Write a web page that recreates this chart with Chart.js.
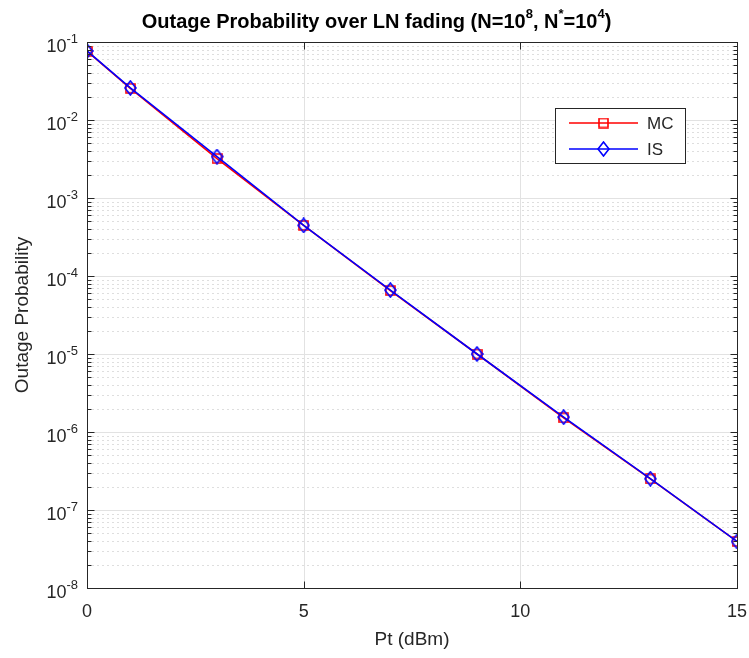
<!DOCTYPE html>
<html>
<head>
<meta charset="utf-8">
<script src="https://cdn.jsdelivr.net/npm/chart.js@4.4.1/dist/chart.umd.min.js"></script>
<style>
  html, body { margin: 0; padding: 0; background: #fff; }
  canvas { display: block; }
</style>
</head>
<body>
<canvas id="chart" width="749" height="658"></canvas>
<script>
// Outage probability vs transmit power, log y axis (MATLAB-like look)
const pt = [0, 1, 3, 5, 7, 9, 11, 13, 15];
const mcValues = [0.0765, 0.0255, 0.0032, 4.45e-4, 6.5e-5, 1.0e-5, 1.52e-6, 2.5e-7, 3.95e-8];
const isValues = [0.0768, 0.0258, 0.0034, 4.45e-4, 6.6e-5, 1.0e-5, 1.55e-6, 2.52e-7, 3.95e-8];
const xTicks = [0, 5, 10, 15];
const yExponents = [-8, -7, -6, -5, -4, -3, -2, -1];

const FONT = '"Liberation Sans", Arial, Helvetica, sans-serif';
const TEXT = '#262626';

function markerCanvas(w, h, color, shape) {
  const c = document.createElement('canvas');
  c.width = w; c.height = h;
  const g = c.getContext('2d');
  g.strokeStyle = color;
  g.lineWidth = 1.6;
  g.beginPath();
  if (shape === 'square') {
    g.rect(1, 1, w - 2, h - 2);
  } else {
    g.moveTo(w / 2, 1); g.lineTo(w - 1, h / 2);
    g.lineTo(w / 2, h - 1); g.lineTo(1, h / 2); g.closePath();
  }
  g.stroke();
  return c;
}
const squareMark = markerCanvas(11, 11, '#ff0000', 'square');
const diamondMark = markerCanvas(13, 16, '#0000ff', 'diamond');

function supText(ctx, parts, x, y, align) {
  // parts: [text, isSup]
  const big = ctx.font, small = ctx._supFont;
  let total = 0;
  parts.forEach(p => { ctx.font = p[1] ? small : big; total += ctx.measureText(p[0]).width; });
  let cx = align === 'right' ? x - total : align === 'center' ? x - total / 2 : x;
  parts.forEach(p => {
    ctx.font = p[1] ? small : big;
    ctx.fillText(p[0], cx, p[1] ? y - ctx._supRise : y);
    cx += ctx.measureText(p[0]).width;
  });
  ctx.font = big;
}

const matlabAxes = {
  id: 'matlabAxes',
  beforeDatasetsDraw(chart) {
    const { ctx, chartArea: a, scales: { x, y } } = chart;
    ctx.save();
    ctx.lineWidth = 1;
    // minor dotted grid
    ctx.strokeStyle = '#dedede';
    ctx.setLineDash([2, 3]);
    yExponents.slice(0, -1).forEach(e => {
      for (let k = 2; k <= 9; k++) {
        const py = Math.round(y.getPixelForValue(k * Math.pow(10, e))) + 0.5;
        ctx.beginPath(); ctx.moveTo(a.left, py); ctx.lineTo(a.right, py); ctx.stroke();
      }
    });
    // major grid
    ctx.setLineDash([]);
    ctx.strokeStyle = '#e2e2e2';
    yExponents.slice(1, -1).forEach(e => {
      const py = Math.round(y.getPixelForValue(Math.pow(10, e))) + 0.5;
      ctx.beginPath(); ctx.moveTo(a.left, py); ctx.lineTo(a.right, py); ctx.stroke();
    });
    xTicks.slice(1, -1).forEach(v => {
      const px = Math.round(x.getPixelForValue(v)) + 0.5;
      ctx.beginPath(); ctx.moveTo(px, a.top); ctx.lineTo(px, a.bottom); ctx.stroke();
    });
    ctx.restore();
  },
  afterDatasetsDraw(chart) {
    const { ctx, chartArea: a, scales: { x, y } } = chart;
    ctx.save();
    ctx.strokeStyle = TEXT;
    ctx.lineWidth = 1;
    const L = Math.round(a.left) + 0.5, R = Math.round(a.right) + 0.5;
    const T = Math.round(a.top) + 0.5, B = Math.round(a.bottom) + 0.5;
    ctx.strokeRect(L, T, R - L, B - T);

    // ticks, inward on all four sides
    ctx.beginPath();
    yExponents.forEach(e => {
      const py = Math.round(y.getPixelForValue(Math.pow(10, e))) + 0.5;
      ctx.moveTo(L, py); ctx.lineTo(L + 7, py);
      ctx.moveTo(R, py); ctx.lineTo(R - 7, py);
      if (e < -1) {
        for (let k = 2; k <= 9; k++) {
          const pm = Math.round(y.getPixelForValue(k * Math.pow(10, e))) + 0.5;
          ctx.moveTo(L, pm); ctx.lineTo(L + 4, pm);
          ctx.moveTo(R, pm); ctx.lineTo(R - 4, pm);
        }
      }
    });
    xTicks.forEach(v => {
      const px = Math.round(x.getPixelForValue(v)) + 0.5;
      ctx.moveTo(px, B); ctx.lineTo(px, B - 7);
      ctx.moveTo(px, T); ctx.lineTo(px, T + 7);
    });
    ctx.stroke();

    // y tick labels 10^e
    ctx.fillStyle = TEXT;
    ctx.textBaseline = 'middle';
    ctx.textAlign = 'left';
    ctx.font = '18px ' + FONT;
    ctx._supFont = '13px ' + FONT;
    ctx._supRise = 8;
    yExponents.forEach(e => {
      const py = y.getPixelForValue(Math.pow(10, e));
      supText(ctx, [['10', false], [String(e), true]], a.left - 9, py + 5, 'right');
    });

    // x tick labels
    ctx.textAlign = 'center';
    ctx.font = '18px ' + FONT;
    xTicks.forEach(v => {
      ctx.fillText(String(v), x.getPixelForValue(v), 612);
    });

    // title
    ctx.fillStyle = '#000';
    ctx.textAlign = 'left';
    ctx.font = 'bold 20px ' + FONT;
    ctx._supFont = 'bold 13px ' + FONT;
    ctx._supRise = 8;
    supText(ctx, [['Outage Probability over LN fading (N=10', false], ['8', true], [', N', false],
      ['*', true], ['=10', false], ['4', true], [')', false]], chart.width / 2 + 2, 22, 'center');

    // legend
    const lx = 555.5, ly = 108.5, lw = 130, lh = 55;
    ctx.fillStyle = '#fff';
    ctx.fillRect(lx, ly, lw, lh);
    ctx.strokeStyle = TEXT;
    ctx.strokeRect(lx, ly, lw, lh);
    const rows = [
      { label: chart.data.datasets[1].label, color: '#ff0000', mark: squareMark, yy: 123 },
      { label: chart.data.datasets[0].label, color: '#0000ff', mark: diamondMark, yy: 149 }
    ];
    ctx.font = '17px ' + FONT;
    ctx.textBaseline = 'middle';
    rows.forEach(r => {
      ctx.strokeStyle = r.color;
      ctx.lineWidth = 1.6;
      ctx.beginPath(); ctx.moveTo(569, r.yy); ctx.lineTo(638, r.yy); ctx.stroke();
      ctx.drawImage(r.mark, 603.5 - r.mark.width / 2, r.yy - r.mark.height / 2);
      ctx.fillStyle = TEXT;
      ctx.fillText(r.label, 647, r.yy + 1);
    });
    ctx.restore();
  }
};

new Chart(document.getElementById('chart'), {
  type: 'line',
  data: {
    datasets: [
      {
        label: 'IS',
        data: pt.map((v, i) => ({ x: v, y: isValues[i] })),
        borderColor: '#0000ff',
        borderWidth: 1.6,
        pointStyle: diamondMark,
        pointRadius: 7,
        order: 1
      },
      {
        label: 'MC',
        data: pt.map((v, i) => ({ x: v, y: mcValues[i] })),
        borderColor: '#ff0000',
        borderWidth: 1.6,
        pointStyle: squareMark,
        pointRadius: 6,
        order: 2
      }
    ]
  },
  options: {
    responsive: false,
    animation: false,
    layout: { padding: { left: 0, right: 12, top: 42, bottom: 0 } },
    plugins: { legend: { display: false }, tooltip: { enabled: false } },
    scales: {
      x: {
        type: 'linear',
        min: 0,
        max: 15,
        ticks: { display: false },
        grid: { display: false },
        border: { display: false },
        title: {
          display: true,
          text: 'Pt (dBm)',
          color: TEXT,
          font: { family: FONT, size: 19 },
          padding: { top: 0, bottom: 7 }
        },
        afterFit: s => { s.height = 70; }
      },
      y: {
        type: 'logarithmic',
        min: 1e-8,
        max: 1e-1,
        ticks: { display: false },
        grid: { display: false },
        border: { display: false },
        title: {
          display: true,
          text: 'Outage Probability',
          color: TEXT,
          font: { family: FONT, size: 19 },
          padding: { top: 11, bottom: 0 }
        },
        afterFit: s => { s.width = 87; }
      }
    }
  },
  plugins: [matlabAxes]
});
</script>
</body>
</html>
